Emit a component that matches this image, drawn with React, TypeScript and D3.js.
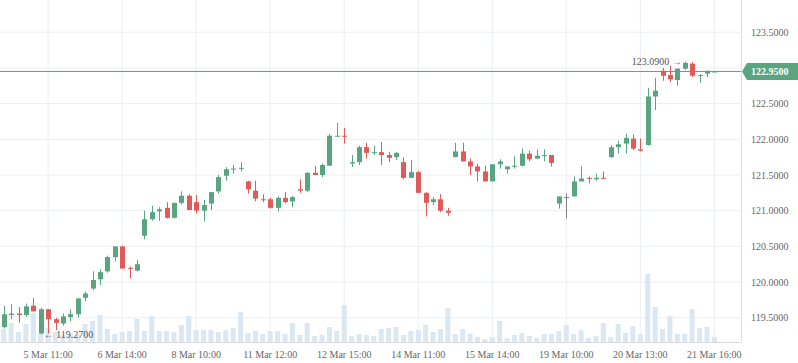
import { scaleLinear, range } from "d3";

// candles, one per bar (hourly-ish session bars)
const opens = [
  119.37, 119.54, 119.56, 119.54, 119.67, 119.28, 119.62, 119.48, 119.42, 119.51,
  119.55, 119.78, 119.91, 120.04, 120.15, 120.35, 120.5, 120.2, 120.16, 120.65,
  120.88, 120.99, 121.04, 120.9, 121.11, 121.21, 121.12, 121.0, 121.1, 121.27,
  121.49, 121.58, 121.59, 121.41, 121.28, 121.16, 121.16, 121.04, 121.18, 121.13,
  121.3, 121.28, 121.53, 121.5, 121.63, 122.04, 122.05, 121.66, 121.68, 121.89,
  121.81, 121.82, 121.78, 121.75, 121.68, 121.46, 121.54, 121.25, 121.12, 121.16,
  121.0, 121.75, 121.83, 121.69, 121.62, 121.55, 121.41, 121.65, 121.58, 121.62,
  121.63, 121.8, 121.73, 121.77, 121.78, 121.1, 121.19, 121.2, 121.41, 121.46,
  121.44, 121.46, 121.75, 121.89, 121.94, 122.01, 121.86, 121.92, 122.6, 122.96,
  122.9, 122.83, 122.99, 123.06, 122.89, 122.92, 122.94,
];
const highs = [
  119.67, 119.69, 119.65, 119.7, 119.78, 119.64, 119.62, 119.5, 119.56, 119.62,
  119.78, 119.87, 120.15, 120.18, 120.37, 120.5, 120.51, 120.22, 120.31, 121.0,
  121.07, 121.05, 121.12, 121.11, 121.27, 121.23, 121.22, 121.15, 121.26, 121.5,
  121.61, 121.64, 121.68, 121.42, 121.42, 121.23, 121.18, 121.2, 121.26, 121.21,
  121.44, 121.54, 121.63, 121.66, 122.08, 122.23, 122.16, 121.78, 121.91, 121.95,
  121.91, 121.96, 121.82, 121.82, 121.75, 121.71, 121.56, 121.26, 121.19, 121.23,
  121.04, 121.95, 121.95, 121.73, 121.66, 121.63, 121.65, 121.72, 121.62, 121.76,
  121.87, 121.84, 121.86, 121.86, 121.78, 121.2, 121.24, 121.48, 121.62, 121.48,
  121.52, 121.55, 121.92, 121.98, 122.08, 122.07, 122.01, 122.72, 122.86, 123.0,
  123.03, 122.99, 123.09, 123.08, 122.91, 122.96, 122.96,
];
const lows = [
  119.35, 119.48, 119.43, 119.51, 119.59, 119.27, 119.28, 119.33, 119.39, 119.45,
  119.5, 119.73, 119.89, 119.96, 120.13, 120.29, 120.19, 120.05, 120.15, 120.6,
  120.86, 120.86, 120.89, 120.89, 121.09, 121.01, 120.96, 120.85, 121.01, 121.24,
  121.42, 121.52, 121.55, 121.24, 121.13, 121.12, 121.03, 120.99, 121.1, 121.05,
  121.25, 121.26, 121.5, 121.47, 121.63, 122.04, 121.94, 121.61, 121.64, 121.73,
  121.78, 121.64, 121.68, 121.71, 121.44, 121.46, 121.25, 120.92, 121.08, 120.98,
  120.93, 121.75, 121.69, 121.5, 121.41, 121.41, 121.41, 121.59, 121.52, 121.59,
  121.62, 121.69, 121.72, 121.69, 121.62, 121.03, 120.89, 121.2, 121.41, 121.38,
  121.42, 121.44, 121.74, 121.8, 121.8, 121.85, 121.83, 121.91, 122.41, 122.82,
  122.8, 122.75, 122.97, 122.87, 122.79, 122.87, 122.94,
];
const closes = [
  119.55, 119.56, 119.54, 119.66, 119.59, 119.62, 119.48, 119.43, 119.52, 119.55,
  119.77, 119.84, 120.03, 120.14, 120.35, 120.5, 120.19, 120.19, 120.25, 120.88,
  120.98, 121.02, 120.9, 121.11, 121.21, 121.01, 121.0, 121.08, 121.26, 121.47,
  121.58, 121.59, 121.6, 121.3, 121.17, 121.15, 121.04, 121.18, 121.12, 121.19,
  121.28, 121.53, 121.5, 121.64, 122.05, 122.05, 122.04, 121.68, 121.89, 121.81,
  121.82, 121.78, 121.74, 121.81, 121.46, 121.54, 121.25, 121.11, 121.16, 121.0,
  120.97, 121.83, 121.69, 121.62, 121.55, 121.41, 121.65, 121.69, 121.62, 121.63,
  121.8, 121.72, 121.77, 121.78, 121.67, 121.2, 121.19, 121.41, 121.45, 121.45,
  121.46, 121.45, 121.89, 121.93, 122.02, 121.87, 121.84, 122.6, 122.68, 122.89,
  122.84, 122.99, 123.07, 122.89, 122.9, 122.96, 122.95,
];
const volumes = [
  13, 19, 10, 18, 29, 9, 14, 10, 7, 8, 7, 18, 21, 27, 13, 8, 10, 11, 23, 11,
  26, 11, 11, 10, 17, 26, 12, 12, 12, 10, 12, 14, 30, 9, 11, 8, 11, 11, 8, 19,
  7, 19, 6, 7, 15, 11, 37, 6, 8, 7, 6, 13, 14, 15, 7, 11, 12, 17, 10, 13,
  34, 8, 13, 8, 5, 3, 5, 21, 4, 7, 9, 6, 4, 8, 8, 11, 17, 8, 12, 4,
  6, 19, 5, 18, 9, 16, 8, 68, 35, 13, 26, 8, 8, 33, 14, 15, 5,
];

const xTickIndex = [6, 16, 26, 36, 46, 56, 66, 76, 86, 96];
const xTickLabels = [
  "5 Mar 11:00",
  "6 Mar 14:00",
  "8 Mar 10:00",
  "11 Mar 12:00",
  "12 Mar 15:00",
  "14 Mar 11:00",
  "15 Mar 14:00",
  "19 Mar 10:00",
  "20 Mar 13:00",
  "21 Mar 16:00",
];
const yTicks = [119.5, 120, 120.5, 121, 121.5, 122, 122.5, 123, 123.5];

const W = 798;
const H = 363;
const plotRight = 741;
const baseY = 342;
const GREEN = "#58a580";
const RED = "#e05a57";
const GRAY = "#808080";
const GRID = "#ebeef2";
const FONT = "'Liberation Serif', 'Times New Roman', serif";

export default function App() {
  const x = scaleLinear().domain([-0.5, 99.6]).range([0, plotRight]);
  const y = scaleLinear().domain([119.5, 123.5]).range([317.8, 32.2]);
  const v = scaleLinear().domain([0, 100]).range([baseY, baseY - 100]);

  const idx = range(opens.length);
  const bw = 5;
  const last = closes[closes.length - 1];

  let minI = 0;
  let maxI = 0;
  idx.forEach((i) => {
    if (lows[i] < lows[minI]) minI = i;
    if (highs[i] > highs[maxI]) maxI = i;
  });

  const tagY = y(last);

  return (
    <svg
      width={W}
      height={H}
      style={{ position: "absolute", left: 0, top: 0, background: "#fff" }}
      fontFamily={FONT}
    >
      {/* grid */}
      {yTicks.map((t) => (
        <line key={t} x1={0} x2={plotRight} y1={y(t)} y2={y(t)} stroke={GRID} />
      ))}
      {xTickIndex.map((i) => (
        <line key={i} x1={x(i)} x2={x(i)} y1={0} y2={baseY} stroke={GRID} />
      ))}

      {/* volume */}
      {idx.map((i) => (
        <rect
          key={i}
          x={x(i) - bw / 2}
          y={v(volumes[i])}
          width={bw}
          height={baseY - v(volumes[i])}
          fill="#dbe7f2"
        />
      ))}

      {/* last price line */}
      <line x1={0} x2={plotRight} y1={tagY} y2={tagY} stroke={GREEN} strokeWidth={1} />

      {/* candles */}
      {idx.map((i) => {
        const o = opens[i];
        const c = closes[i];
        const col = c > o ? GREEN : c < o ? RED : GRAY;
        const top = y(Math.max(o, c));
        const h = Math.max(1, y(Math.min(o, c)) - top);
        const cx = Math.round(x(i)) + 0.5;
        return (
          <g key={i}>
            <line x1={cx} x2={cx} y1={y(highs[i])} y2={y(lows[i])} stroke={col} />
            <rect x={cx - bw / 2} y={top} width={bw} height={h} fill={col} />
          </g>
        );
      })}

      {/* axes borders */}
      <line x1={0} x2={plotRight} y1={baseY + 0.5} y2={baseY + 0.5} stroke="#d6dae0" />
      <line x1={plotRight + 0.5} x2={plotRight + 0.5} y1={0} y2={baseY} stroke="#dde1e6" />

      {/* y labels (the one under the last-price tag is hidden) */}
      {yTicks
        .filter((t) => Math.abs(y(t) - tagY) > 12)
        .map((t) => (
          <text
            key={t}
            x={751}
            y={y(t)}
            dy="0.35em"
            fontSize={10}
            fill="#666"
          >
            {t.toFixed(4)}
          </text>
        ))}

      {/* x labels */}
      {xTickIndex.map((i, k) => (
        <text
          key={i}
          x={x(i)}
          y={354}
          dy="0.35em"
          textAnchor="middle"
          fontSize={10}
          fill="#666"
        >
          {xTickLabels[k]}
        </text>
      ))}

      {/* min / max markers */}
      <text x={x(minI) + 3} y={y(lows[minI])} dy="0.35em" fontSize={10} fill="#555">
        {"\u2190 " + lows[minI].toFixed(4)}
      </text>
      <text
        x={x(maxI) - 3}
        y={y(highs[maxI])}
        dy="0.35em"
        textAnchor="end"
        fontSize={10}
        fill="#555"
      >
        {highs[maxI].toFixed(4) + " \u2192"}
      </text>

      {/* last price tag */}
      <path
        d={`M${plotRight + 1},${tagY} L${plotRight + 6},${tagY - 8.5} L${W},${tagY - 8.5} L${W},${tagY + 8.5} L${plotRight + 6},${tagY + 8.5} Z`}
        fill={GREEN}
      />
      <text x={751} y={tagY} dy="0.35em" fontSize={10} fill="#fff" fontWeight="bold">
        {last.toFixed(4)}
      </text>
    </svg>
  );
}
